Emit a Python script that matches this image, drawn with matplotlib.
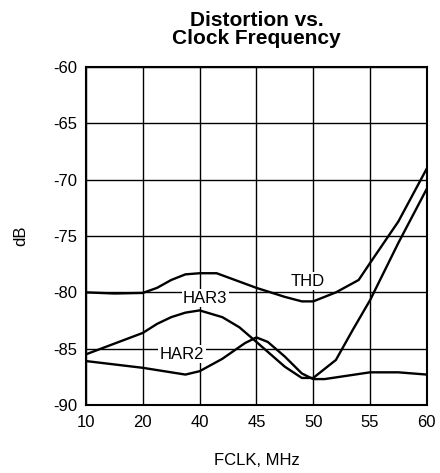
import numpy as np
import matplotlib
matplotlib.use('Agg')
import matplotlib.pyplot as plt

plt.rcParams['font.family'] = ['Liberation Sans', 'DejaVu Sans']
plt.rcParams['axes.unicode_minus'] = False

# Axis ticks (equally spaced on the plot, though values are not)
x_ticks = [10, 20, 40, 45, 50, 55, 60]
y_ticks = [-90, -85, -80, -75, -70, -65, -60]

# Curves (MHz, dB)
thd_f = [10, 15, 20, 25, 30, 35, 40, 41.5, 45, 47.5, 49, 50, 52, 54, 55, 57.5, 60]
thd_db = [-80.0, -80.1, -80.05, -79.6, -78.9, -78.4, -78.3, -78.3, -79.6, -80.4, -80.8, -80.8, -80.0, -78.9, -77.4, -73.7, -69.0]

har3_f = [10, 20, 25, 30, 35, 40, 42, 43.5, 45, 47.5, 49, 50, 52, 53.5, 55, 57.5, 60]
har3_db = [-85.5, -83.6, -82.8, -82.2, -81.8, -81.6, -82.2, -83.1, -84.4, -86.6, -87.6, -87.6, -86.0, -83.3, -80.7, -75.6, -70.8]

har2_f = [10, 20, 35, 40, 42, 44, 45, 46, 47.5, 49, 50, 51, 55, 57.5, 60]
har2_db = [-86.1, -86.7, -87.3, -87.0, -85.9, -84.5, -84.0, -84.4, -85.7, -87.2, -87.7, -87.7, -87.1, -87.1, -87.3]

idx = np.arange(len(x_ticks))


def fwd(x):
    return np.interp(x, x_ticks, idx)


def inv(x):
    return np.interp(x, idx, x_ticks)


fig = plt.figure(figsize=(4.4, 4.73), dpi=100)
ax = fig.add_axes([0.1955, 0.1438, 0.7745, 0.7142])
ax.set_xscale('function', functions=(fwd, inv))

for f, db in [(thd_f, thd_db), (har3_f, har3_db), (har2_f, har2_db)]:
    ax.plot(f, db, color='black', lw=1.7, zorder=3)

ax.set_xlim(10, 60)
ax.set_ylim(-90, -60)
ax.set_xticks(x_ticks)
ax.set_xticklabels([str(t) for t in x_ticks])
ax.set_yticks(y_ticks)
ax.xaxis.set_minor_locator(matplotlib.ticker.NullLocator())
ax.grid(True, color='black', lw=1.0)
ax.tick_params(length=0, labelsize=12)
ax.tick_params(axis='x', pad=7)
ax.tick_params(axis='y', pad=6)
for s in ax.spines.values():
    s.set_linewidth(1.5)

box = dict(facecolor='white', edgecolor='none', pad=1)
ax.text(49.5, -79.0, 'THD', fontsize=12, ha='center', va='center', bbox=box, zorder=4)
ax.text(40.5, -80.5, 'HAR3', fontsize=12, ha='center', va='center', bbox=box, zorder=4)
ax.text(33.8, -85.5, 'HAR2', fontsize=12, ha='center', va='center', bbox=box, zorder=4)

ax.set_title('Distortion vs.\nClock Frequency', fontsize=15, fontweight='bold', pad=17, linespacing=0.92)
ax.set_xlabel('FCLK, MHz', fontsize=12, labelpad=17)
ax.set_ylabel('dB', fontsize=12, labelpad=18)

fig.savefig('out.png', dpi=100)
